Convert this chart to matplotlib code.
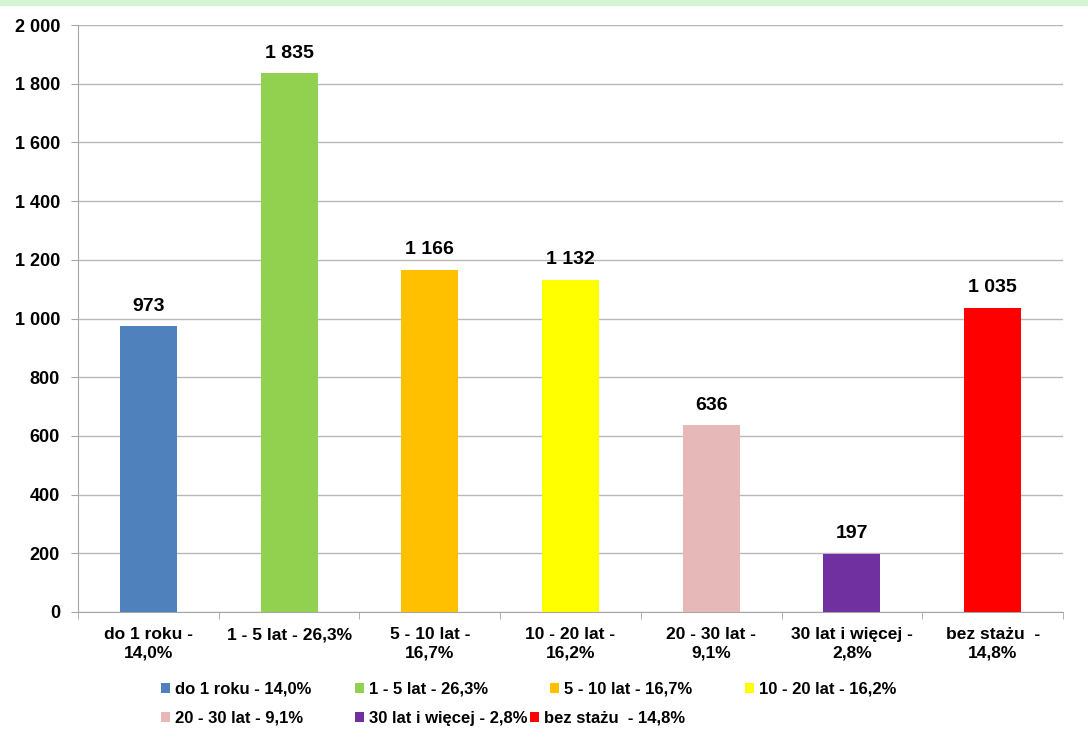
import numpy as np
import matplotlib.pyplot as plt
from matplotlib.patches import Rectangle

plt.rcParams['font.family'] = ['Liberation Sans', 'DejaVu Sans']
plt.rcParams['font.weight'] = 'bold'

kategorie = ['do 1 roku -\n14,0%', '1 - 5 lat - 26,3%', '5 - 10 lat -\n16,7%',
             '10 - 20 lat -\n16,2%', '20 - 30 lat -\n9,1%', '30 lat i więcej -\n2,8%',
             'bez stażu  -\n14,8%']
legenda = ['do 1 roku - 14,0%', '1 - 5 lat - 26,3%', '5 - 10 lat - 16,7%',
           '10 - 20 lat - 16,2%', '20 - 30 lat - 9,1%', '30 lat i więcej - 2,8%',
           'bez stażu  - 14,8%']
wartosci = [973, 1835, 1166, 1132, 636, 197, 1035]
kolory = ['#4f81bd', '#92d050', '#ffc000', '#ffff00', '#e6b9b8', '#7030a0', '#ff0000']
yticks = np.arange(0, 2001, 200)

W, H = 1088, 747
fig = plt.figure(figsize=(W / 100, H / 100), dpi=100)
fig.patches.append(Rectangle((0, 1 - 5 / H), 1, 5 / H, transform=fig.transFigure,
                             color='#d3f5d3', zorder=0))

ax = fig.add_axes([78 / W, 1 - 612 / H, (1063 - 78) / W, (612 - 25) / H])
x = np.arange(len(wartosci))
bars = ax.bar(x, wartosci, width=0.405, color=kolory, zorder=3)

for xi, v in zip(x, wartosci):
    s = f'{v:,}'.replace(',', ' ')
    ax.text(xi, v + 40, s, ha='center', va='bottom', fontsize=14, fontweight='bold')

ax.set_xlim(-0.5, len(wartosci) - 0.5)
ax.set_ylim(0, 2000)
ax.set_yticks(yticks)
ax.set_yticklabels([f'{t:,}'.replace(',', ' ') for t in yticks])
ax.set_xticks(x)
ax.set_xticklabels(kategorie, fontsize=12.5, linespacing=1.25)
ax.set_xticks(np.arange(-0.5, len(wartosci)), minor=True)

ax.grid(axis='y', color='#b8b8b8', linewidth=1, zorder=0)
for s in ['top', 'right']:
    ax.spines[s].set_visible(False)
for s in ['left', 'bottom']:
    ax.spines[s].set_color('#a6a6a6')
ax.tick_params(axis='y', length=5, color='#a6a6a6', pad=8, labelsize=13)
ax.tick_params(axis='x', which='major', length=0, pad=11)
ax.tick_params(axis='x', which='minor', length=5, color='#a6a6a6')

# legenda w dwóch rzędach, jak w Excelu
pozycje = [(161, 689), (355, 689), (550, 689), (745, 689),
           (161, 718), (355, 718), (530, 718)]
for b, lab, (px, py) in zip(bars, legenda, pozycje):
    fig.legend([b], [lab], loc='center left', bbox_to_anchor=(px / W, 1 - py / H),
               frameon=False, borderpad=0, borderaxespad=0, fontsize=12,
               handlelength=0.55, handleheight=0.55, handletextpad=0.3)

fig.savefig('out.png', dpi=100)
